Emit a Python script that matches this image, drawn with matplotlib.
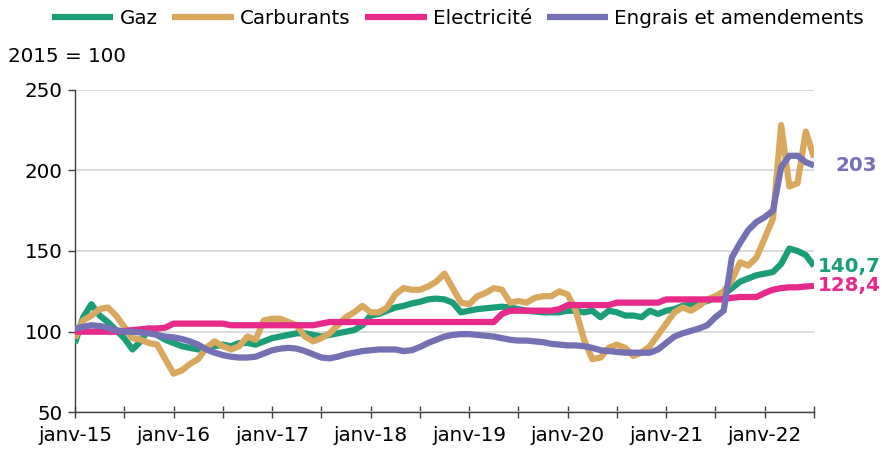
import matplotlib
matplotlib.use("Agg")
import matplotlib.pyplot as plt

# ---- data (monthly index, janv-15 .. juil-22, base 2015 = 100) ----
gaz = [93, 109, 117, 110, 106, 101, 96, 89, 94, 102,
       98, 95, 93, 91, 90, 89, 90, 91, 92, 91,
       93, 93, 92, 94, 96, 97, 98, 99, 99, 98,
       97, 98, 99, 100, 101, 104, 110, 111, 113, 115,
       116, 117.5, 118.5, 120, 120.5, 120, 118, 112, 113, 114,
       114.5, 115, 115.5, 115, 114, 113, 112.5, 112, 112, 112,
       113, 113, 112, 113, 109, 113, 112, 110, 110, 109,
       113, 111, 113, 114, 116, 117, 118, 119, 121, 123,
       127, 131, 133, 135, 136, 137, 142, 151.5, 150, 147.5, 140.7]

carburants = [96, 107, 110, 114, 115, 110, 103, 96, 95, 93,
              92, 83, 74, 76, 80, 83, 90, 94, 91, 89,
              91, 97, 95, 107, 108, 108, 106, 104, 97, 94,
              96, 99, 104, 109, 112, 116, 112, 112, 115, 123,
              127, 126, 126, 128, 131, 136, 127, 118, 117, 122,
              124, 127, 126, 118, 119, 118, 121, 122, 122, 125,
              123, 113, 95, 83, 84, 90, 92, 90, 85, 87,
              91, 98, 105, 112, 115, 113, 116, 120, 122, 125,
              132, 143, 141, 146, 158, 170, 228, 190, 192, 224, 208]

electricite = [100, 100, 100, 100, 100, 100, 100.5, 101, 101.5, 102,
               102, 102.5, 105, 105, 105, 105, 105, 105, 105, 104,
               104, 104, 104, 104, 104, 104, 104, 104, 104, 104,
               105, 106, 106, 106, 106, 106, 106, 106, 106, 106,
               106, 106, 106, 106, 106, 106, 106, 106, 106, 106,
               106, 106, 111, 113, 113, 113, 113, 113, 113, 114,
               116.5, 116.5, 116.5, 116.5, 116.5, 116.5, 118, 118, 118, 118,
               118, 118, 120, 120, 120, 120, 120, 120, 120, 120,
               121, 121.5, 121.5, 121.5, 124, 126, 127, 127.5, 127.5, 128, 128.4]

engrais = [102, 103, 104, 103.5, 102.5, 101, 100, 100, 99.5, 99,
           98, 97, 96.5, 95.5, 94, 92, 89, 87, 85.5, 84.5,
           84, 84, 84.5, 86.5, 88.5, 89.5, 90, 89.5, 88, 86,
           84, 83.5, 84.5, 86, 87, 88, 88.5, 89, 89, 89,
           88, 88.5, 90.5, 93, 95, 97, 98, 98.5, 98.5, 98,
           97.5, 97, 96, 95, 94.5, 94.5, 94, 93.5, 92.5, 92,
           91.5, 91.5, 91, 90, 88.5, 88, 87.5, 87, 87, 87,
           87, 89, 93, 97, 99, 100.5, 102, 104, 109, 113,
           146, 155, 163, 168, 171, 175, 202, 209, 209, 205, 203]

series_names = ["Gaz", "Carburants", "Electricité", "Engrais et amendements"]
year_labels = ["janv-15", "janv-16", "janv-17", "janv-18",
               "janv-19", "janv-20", "janv-21", "janv-22"]
end_labels = ["140,7", None, "128,4", "203"]

colors = ["#1b9e77", "#d9a75e", "#e7298a", "#7570b3"]

plt.rcParams["font.family"] = ["DejaVu Sans"]
FS = 14.3

fig = plt.figure(figsize=(8.82, 4.54), dpi=100)
ax = fig.add_axes([75 / 882, 1 - 412.4 / 454, (814 - 75) / 882, (412.4 - 89.6) / 454])

all_series = [gaz, carburants, electricite, engrais]
x = list(range(len(gaz)))
for vals, col, name in zip(all_series, colors, series_names):
    ax.plot(x, vals, color=col, lw=4.5, label=name,
            solid_joinstyle="round", solid_capstyle="butt", zorder=3)

ax.set_xlim(0, len(gaz) - 1)
ax.set_ylim(50, 250)
ax.set_yticks([50, 100, 150, 200, 250])
ax.grid(axis="y", color="#d9d9d9", lw=1.3, zorder=0)
ax.set_axisbelow(True)

ticks = list(range(0, len(gaz), 6))
labs = []
for t in ticks:
    labs.append(year_labels[t // 12] if t % 12 == 0 else "")
ax.set_xticks(ticks)
ax.set_xticklabels(labs)

for s in ["top", "right"]:
    ax.spines[s].set_visible(False)
for s in ["left", "bottom"]:
    ax.spines[s].set_color("#404040")
    ax.spines[s].set_linewidth(1.0)

ax.tick_params(axis="x", direction="inout", length=8, width=1.0, color="#404040",
               labelsize=FS, pad=6)
ax.tick_params(axis="y", direction="out", length=5, width=1.0, color="#404040",
               labelsize=FS, pad=4)

# end labels
offsets = {0: 4, 2: 4, 3: 21}
last = len(gaz) - 1
for i, (vals, col, lab) in enumerate(zip(all_series, colors, end_labels)):
    if lab is None:
        continue
    ax.annotate(lab, xy=(last, vals[-1]), xytext=(offsets[i], 0),
                textcoords="offset pixels", va="center", ha="left",
                fontsize=FS, fontweight="bold", color=col, annotation_clip=False)

fig.text(8 / 882, 1 - 56 / 454, "2015 = 100", va="center", ha="left", fontsize=FS)

fig.legend(loc="center", bbox_to_anchor=(458 / 882, 1 - 18 / 454), ncol=4,
           frameon=False, handlelength=3.1, handletextpad=0.3,
           columnspacing=0.75, fontsize=FS)

fig.savefig("out.png", dpi=100)
